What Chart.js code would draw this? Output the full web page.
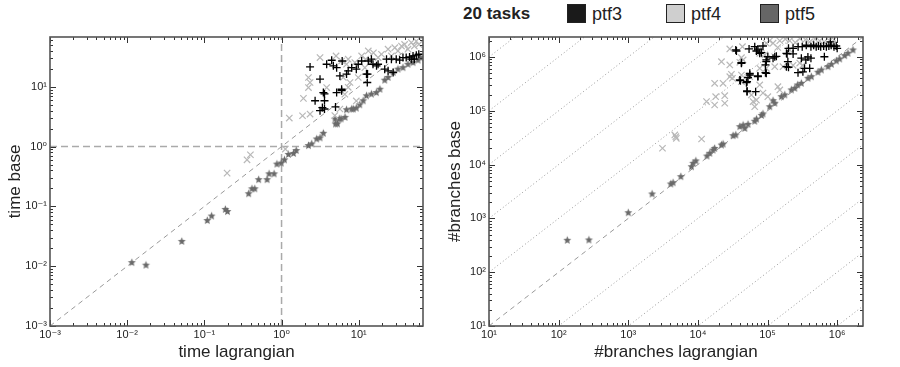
<!DOCTYPE html>
<html>
<head>
<meta charset="utf-8">
<script src="https://cdn.jsdelivr.net/npm/chart.js@4.4.0/dist/chart.umd.min.js"></script>
<style>
body { margin: 0; background: #fff; width: 900px; height: 367px; overflow: hidden; font-family: "Liberation Sans", Arial, sans-serif; }
.box { position: absolute; top: 0; height: 367px; }
#legend { position: absolute; top: 0; left: 0; width: 900px; height: 30px; color: #222; }
#legend .item { position: absolute; top: 4px; font-size: 18px; line-height: 20px; }
#legend .sw { display: inline-block; width: 17px; height: 17px; border: 1px solid #222; vertical-align: top; margin-right: 6px; }
</style>
</head>
<body>
<div id="legend"></div>
<div class="box" style="left:0;width:440px"><canvas id="left"></canvas></div>
<div class="box" style="left:440px;width:460px"><canvas id="right"></canvas></div>
<script>
// legend
const seriesNames = ['ptf3', 'ptf4', 'ptf5'];
const seriesColors = ['#1a1a1a', '#cfcfcf', '#666666'];
const legendTitle = '20 tasks';

// time plot (seconds): [lagrangian, base]
const timePtf3 = [
  [2.34,21.5],[3.15,13.4],[3.48,8.0],[3.6,7.6],[2.72,5.84],[3.6,5.84],[3.15,3.98],[3.6,4.25],[3.38,4.5],
  [3.84,23.8],[4.46,27.8],[4.69,22.4],[5.17,20.9],[5.7,15.2],[5.17,8.0],[6.0,8.6],[6.0,9.1],[5.0,4.6],
  [6.1,27],[6.95,16.3],[7.3,18.5],[8.1,20.9],[9.3,19.7],[9.85,23.8],[10.9,27],[12.6,16.3],[13,16.3],
  [12.9,11.8],[13.3,27],[14.6,29],[15.3,23.8],[17,22.4],[17.8,23.8],[21.7,19.7],[24,18.5],[27.9,17.3],
  [22.9,29],[26.5,29],[30.6,29],[33.9,28],[37.4,30.8],[41.2,30.8],[45.5,31.5],[50.5,32.8],[55.7,33.8],
  [60,35],[47.9,29],[52.5,29]
];
const timePtf4 = [
  [0.197,0.36],[0.357,0.60],[0.395,0.73],[1.12,0.91],[1.26,3.0],[1.87,3.28],[2.34,3.5],[1.92,6.4],
  [2.23,9.7],[2.34,11.8],[2.23,14.3],[3.15,30.8],[3.84,9.7],[4.9,3.3],[5.7,4.25],[6.6,7.5],[5.08,32.8],
  [6.0,27],[6.3,14.3],[6.95,23.8],[7.3,29],[7.3,9.8],[7.7,11.8],[8.9,25.4],[9.3,5.8],[9.85,14.3],
  [10.9,32.8],[12,20.9],[12.3,29],[13.3,39.8],[13.9,25.4],[15.5,37],[17.8,30.8],[19.7,35],[24,42.5],
  [26.5,32.8],[29.3,45],[32.2,39.8],[35.8,48],[39.3,51],[43.4,42.5],[48,54.8],[52.5,48],[55.7,58],[60,51]
];
const timePtf5 = [
  [0.0115,0.0115],[0.0175,0.0104],[0.051,0.026],[0.109,0.058],[0.124,0.069],[0.187,0.089],[0.199,0.082],
  [0.375,0.163],[0.414,0.197],[0.45,0.197],[0.505,0.28],[0.65,0.28],[0.69,0.35],[0.80,0.35],[0.87,0.51],
  [0.99,0.53],[1.09,0.60],[1.23,0.74],[1.43,0.77],[1.55,0.86],[2.23,1.04],[2.46,1.11],[2.85,1.34],
  [3.15,1.40],[3.48,1.67],[4.93,2.89],[5.0,2.39],[5.3,2.4],[5.6,2.9],[5.9,2.9],[6.64,3.08],[6.95,4.14],
  [8.09,4.25],[8.5,4.25],[9.3,4.4],[10.3,5.0],[11.4,5.84],[12.6,7.07],[14.6,7.54],[16.9,8.0],[18.8,9.1],
  [21.7,12.9],[24,14.3],[27.9,17.3],[32.2,19.7],[37.4,20.9],[43.4,23.8],[50.5,25.4],[58.6,27.9],[63.5,30.7]
];

// branches plot: [lagrangian, base]
const brPtf3 = [
  [35000,1350000],[35800,1290000],[42200,783000],[42200,764000],[40800,363000],[40000,373000],[49800,333000],
  [50800,348000],[50800,226000],[50800,234000],[55600,497000],[55600,462000],[52500,415000],[67500,226000],
  [54300,1410000],[65500,1550000],[69200,1290000],[77300,1170000],[72700,1400000],[81700,1200000],[86000,1600000],
  [72700,443000],[72700,430000],[93400,510000],[96000,497000],[96000,818000],[96000,880000],[93400,710000],
  [101000,1010000],[120000,950000],[127000,1010000],[134000,1030000],[187000,1170000],[191000,1140000],
  [196000,818000],[187000,660000],[200000,644000],[200000,1450000],[233000,1450000],[233000,1140000],
  [274000,510000],[306000,950000],[322000,530000],[340000,616000],[355000,880000],[403000,616000],
  [380000,1000000],[420000,950000],[275000,1550000],[315000,1550000],[360000,1650000],[420000,1550000],
  [460000,1650000],[500000,1550000],[540000,1600000],[580000,1550000],[640000,1600000],[655000,1010000],
  [700000,1550000],[760000,1600000],[820000,1650000],[900000,1550000],[970000,1600000],[1000000,1450000],
  [800000,1900000]
];
const brPtf4 = [
  [3100,20100],[4660,35500],[4820,33000],[4900,30800],[11300,29900],[13300,148000],[17400,324000],
  [18000,183000],[17400,128000],[21800,818000],[23000,324000],[24300,191000],[24300,138000],[28700,1410000],
  [28700,710000],[30300,476000],[28700,430000],[31300,402000],[40000,795000],[42200,970000],[42200,462000],
  [42200,348000],[43600,1550000],[44600,880000],[55600,430000],[58700,197000],[62000,148000],[65500,119000],
  [69200,158000],[77300,302000],[77300,1170000],[81700,1450000],[91600,1090000],[96000,616000],[77300,616000],
  [86000,214000],[101000,183000],[107000,2000000],[127000,660000],[141000,280000],[150000,244000],
  [150000,2000000],[167000,660000],[208000,2000000],[233000,700000],[290000,770000],[320000,700000],
  [290000,2200000],[403000,1900000],[560000,2000000],[780000,2000000],[120000,1800000],[180000,2150000],
  [250000,1850000],[350000,2100000],[480000,2150000],[650000,1900000],[900000,2100000],[140000,1500000],
  [208000,1350000],[96000,1800000]
];
const brPtf5 = [
  [133,392],[272,397],[1000,1276],[2200,2840],[4080,4360],[4400,4600],[5690,5960],[8090,9130],[8550,10560],
  [9350,11700],[13500,14400],[14800,16200],[16500,18600],[17400,20000],[21800,23100],[23000,24000],
  [32000,34500],[35000,35500],[40000,50700],[44600,54000],[47100,47000],[52500,56000],[65500,64000],
  [69500,70000],[82000,82000],[86000,87500],[107600,119000],[120000,154000],[127000,138000],[158000,183000],
  [177000,197000],[220000,244000],[246000,262000],[271000,302000],[306000,324000],[381000,402000],
  [426000,430000],[530000,520000],[593000,573000],[738000,661000],[826000,731000],[973000,843000],
  [1087000,918000],[1282000,1057000],[1430000,1172000],[1686000,1350000]
];

// axis ranges and decade tick labels (exponents)
const timeRange = [1e-3, 68];
const brRange = [10, 2.35e6];
const timeTicks = [-3, -2, -1, 0, 1];
const brTicks = [1, 2, 3, 4, 5, 6];
const brGuides = [-5, -4, -3, -2, -1, 1, 2, 3, 4, 5];

const sup = {'-': '\u207B', '0': '\u2070', '1': '\u00B9', '2': '\u00B2', '3': '\u00B3',
             '4': '\u2074', '5': '\u2075', '6': '\u2076'};
function powLabel(v) {
  const e = String(Math.round(Math.log10(v)));
  return '10' + e.split('').map(c => sup[c]).join('');
}

function starImg(color, r) {
  const c = document.createElement('canvas');
  const s = Math.ceil(r * 2) + 2;
  c.width = c.height = s;
  const g = c.getContext('2d');
  g.fillStyle = color;
  g.beginPath();
  for (let i = 0; i < 10; i++) {
    const a = -Math.PI / 2 + i * Math.PI / 5;
    const rr = i % 2 ? r * 0.45 : r;
    g.lineTo(s / 2 + rr * Math.cos(a), s / 2 + rr * Math.sin(a));
  }
  g.closePath();
  g.fill();
  return c;
}
const star = starImg('#6a6a6a', 4.2);

const pts = arr => arr.map(p => ({x: p[0], y: p[1]}));

// inward tick marks on all four sides + frame
const frameTicks = {
  id: 'frameTicks',
  afterDraw(chart) {
    const {ctx, chartArea: a, scales} = chart;
    ctx.save();
    ctx.strokeStyle = '#333';
    ctx.lineWidth = 1;
    ['x', 'y'].forEach(id => {
      const s = scales[id];
      const lo = Math.floor(Math.log10(s.min)), hi = Math.ceil(Math.log10(s.max));
      for (let e = lo; e <= hi; e++) {
        for (let m = 1; m < 10; m++) {
          const v = m * Math.pow(10, e);
          if (v < s.min * 0.999 || v > s.max * 1.001) continue;
          const p = Math.round(s.getPixelForValue(v)) + 0.5;
          const len = m === 1 ? 6 : 3;
          ctx.beginPath();
          if (id === 'x') {
            ctx.moveTo(p, a.bottom); ctx.lineTo(p, a.bottom - len);
            ctx.moveTo(p, a.top); ctx.lineTo(p, a.top + len);
          } else {
            ctx.moveTo(a.left, p); ctx.lineTo(a.left + len, p);
            ctx.moveTo(a.right, p); ctx.lineTo(a.right - len, p);
          }
          ctx.stroke();
        }
      }
    });
    ctx.strokeStyle = '#555';
    ctx.lineWidth = 1.6;
    ctx.strokeRect(a.left, a.top, a.width, a.height);
    ctx.restore();
  }
};

function guide(data, color, dash, width) {
  return {data: data, showLine: true, pointRadius: 0, borderColor: color,
          borderDash: dash, borderWidth: width, order: 9};
}

function series(p3, p4, p5) {
  return [
    {label: seriesNames[0], data: pts(p3), pointStyle: 'cross', pointRadius: 4,
     borderColor: '#000', borderWidth: 1.3, order: 1},
    {label: seriesNames[1], data: pts(p4), pointStyle: 'crossRot', pointRadius: 4.5,
     borderColor: '#b8b8b8', borderWidth: 1.2, order: 2},
    {label: seriesNames[2], data: pts(p5), pointStyle: star, order: 3}
  ];
}

function axis(range, ticks, title, isY, size) {
  return {
    type: 'logarithmic', min: range[0], max: range[1],
    grid: {display: false, drawTicks: false},
    border: {display: false},
    afterBuildTicks: s => { s.ticks = ticks.map(e => ({value: Math.pow(10, e)})); },
    afterFit: s => { if (isY) s.width = size; else s.height = size; },
    ticks: {autoSkip: false, maxRotation: 0, padding: isY ? 3 : 2, color: '#222',
            font: {family: '"Liberation Sans", "DejaVu Sans", Arial, sans-serif', size: 11},
            callback: v => powLabel(v)},
    title: {display: true, text: title, color: '#222',
            font: {family: '"Liberation Sans", Arial, sans-serif', size: 17},
            padding: isY ? {top: 5, bottom: 0} : {top: 0, bottom: 4}}
  };
}

function makeChart(id, datasets, xr, xt, xtitle, yr, yt, ytitle, yw, padRight) {
  return new Chart(document.getElementById(id), {
    type: 'scatter',
    data: {datasets: datasets},
    options: {
      responsive: true, maintainAspectRatio: false, animation: false,
      layout: {padding: {top: 37, right: padRight, left: 0, bottom: 0}},
      plugins: {legend: {display: false}, tooltip: {enabled: false}},
      scales: {
        x: axis(xr, xt, xtitle, false, 41),
        y: axis(yr, yt, ytitle, true, yw)
      }
    },
    plugins: [frameTicks]
  });
}

// left: time
const t0 = timeRange[0], t1 = timeRange[1];
const leftSets = series(timePtf3, timePtf4, timePtf5).concat([
  guide([{x: t0, y: t0}, {x: t1, y: t1}], '#999', [5, 4], 1),
  guide([{x: 1, y: t0}, {x: 1, y: t1}], '#aaa', [7, 4], 1.5),
  guide([{x: t0, y: 1}, {x: t1, y: 1}], '#aaa', [7, 4], 1.5)
]);
makeChart('left', leftSets, timeRange, timeTicks, 'time lagrangian', timeRange, timeTicks, 'time base', 50, 17);

// right: branches
const b0 = brRange[0], b1 = brRange[1];
const rightSets = series(brPtf3, brPtf4, brPtf5).concat([
  guide([{x: b0, y: b0}, {x: b1, y: b1}], '#999', [5, 4], 1)
]).concat(brGuides.map(k => guide(
  [{x: b0, y: b0 * Math.pow(10, k)}, {x: b1, y: b1 * Math.pow(10, k)}], '#999', [1, 2.5], 1)));
makeChart('right', rightSets, brRange, brTicks, '#branches lagrangian', brRange, brTicks, '#branches base', 49, 37);

// legend
const lg = document.getElementById('legend');
const head = document.createElement('div');
head.className = 'item';
head.style.left = '463px';
head.style.fontWeight = 'bold';
head.style.fontSize = '17px';
head.textContent = legendTitle;
lg.appendChild(head);
const legendX = [567, 666, 760];
seriesNames.forEach((n, i) => {
  const d = document.createElement('div');
  d.className = 'item';
  d.style.left = legendX[i] + 'px';
  d.innerHTML = '<span class="sw" style="background:' + seriesColors[i] + '"></span>' + n;
  lg.appendChild(d);
});
</script>
</body>
</html>
